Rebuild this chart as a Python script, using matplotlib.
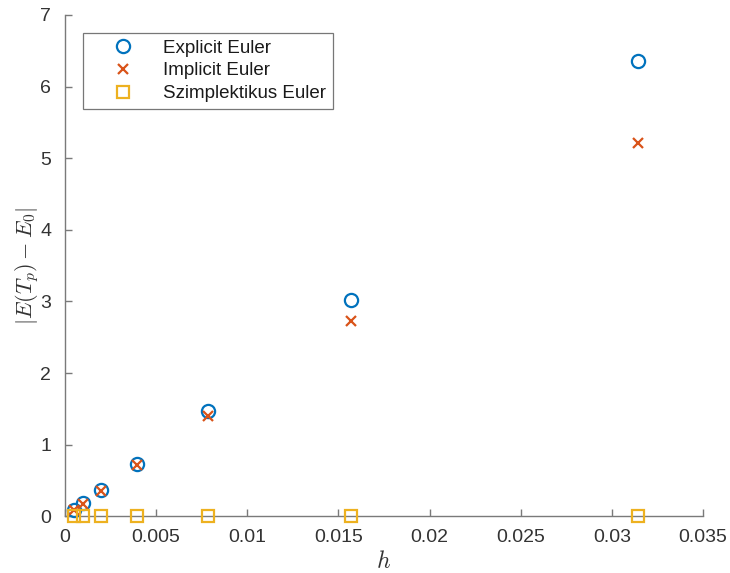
import numpy as np
import matplotlib
matplotlib.use('Agg')
import matplotlib.pyplot as plt

plt.rcParams['font.family'] = ['Liberation Sans', 'DejaVu Sans']
plt.rcParams['mathtext.fontset'] = 'cm'

h = [0.0314159, 0.0157080, 0.0078540, 0.0039270, 0.0019635, 0.00098175, 0.00049087]
err_explicit = [6.36, 3.02, 1.47, 0.73, 0.36, 0.18, 0.09]
err_implicit = [5.21, 2.73, 1.40, 0.71, 0.355, 0.178, 0.088]
err_sympl = [0.002, 0.001, 0.0005, 0.0003, 0.0001, 0.0, 0.0]

SPINE = '#7a7a7a'
TXT = '#333333'
fig = plt.figure(figsize=(7.3, 5.73), dpi=100)
ax = fig.add_axes([0.089, 0.099, 0.874, 0.875])
ax.plot(h, err_explicit, 'o', ls='none', mfc='none', mec='#0072BD', mew=1.6, ms=9.5,
        label='Explicit Euler', clip_on=False, zorder=3)
ax.plot(h, err_implicit, 'x', ls='none', color='#D95319', mew=1.6, ms=6.5,
        label='Implicit Euler', clip_on=False, zorder=4)
ax.plot(h, err_sympl, 's', ls='none', mfc='none', mec='#EDB120', mew=1.6, ms=8.5,
        label='Szimplektikus Euler', clip_on=False, zorder=5)

ax.set_xlim(0, 0.035)
ax.set_ylim(0, 7)
ax.set_xticks([0, 0.005, 0.01, 0.015, 0.02, 0.025, 0.03, 0.035])
ax.set_xticklabels(['0', '0.005', '0.01', '0.015', '0.02', '0.025', '0.03', '0.035'])
ax.set_yticks(range(8))
for s in ['top', 'right']:
    ax.spines[s].set_visible(False)
for s in ['left', 'bottom']:
    ax.spines[s].set_color(SPINE)
    ax.spines[s].set_linewidth(1.0)
ax.tick_params(direction='in', length=5, width=1.0, color=SPINE, labelcolor=TXT,
               labelsize=14)
ax.tick_params(axis='x', pad=9)
ax.tick_params(axis='y', pad=10)
ax.set_xlabel(r'$h$', fontsize=17, color=TXT, labelpad=4)
ax.set_ylabel(r'$|E(T_p)-E_0|$', fontsize=16, color=TXT, labelpad=-1)

leg = ax.legend(loc='upper left', bbox_to_anchor=(0.028, 0.964), borderaxespad=0,
                fontsize=13.5, frameon=True, fancybox=False, edgecolor='#555555',
                borderpad=0.35, handletextpad=0.35, labelspacing=0.3, handlelength=3.6)
leg.get_frame().set_linewidth(0.9)
for t in leg.get_texts():
    t.set_color('#1a1a1a')

fig.savefig('out.png', dpi=100)
